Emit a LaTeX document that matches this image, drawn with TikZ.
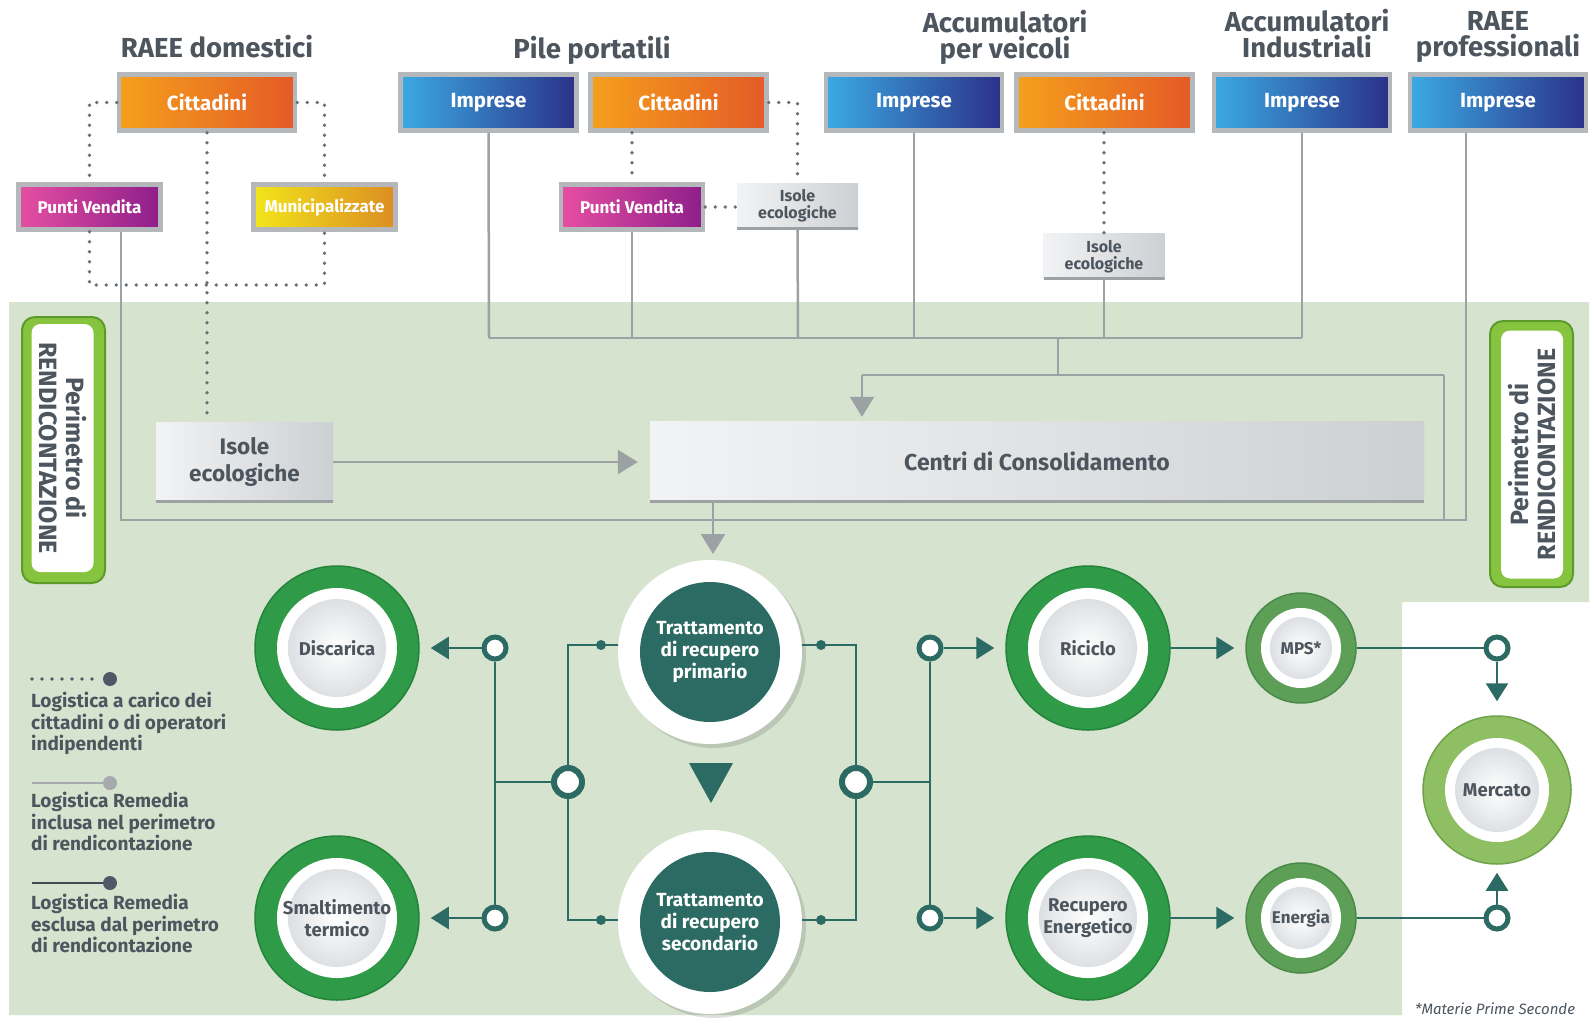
\documentclass[tikz,border=0pt]{standalone}
\usepackage{fontspec}
\setmainfont{Fira Sans}
\usetikzlibrary{arrows.meta,calc,shadows}
\definecolor{bgG}{HTML}{D6E3CF}
\definecolor{frameG}{HTML}{B4B8BB}
\definecolor{txt}{HTML}{4D565E}
\definecolor{lineG}{HTML}{9CA1A4}
\definecolor{dotG}{HTML}{6A7077}
\definecolor{teal1}{HTML}{2C6B63}
\definecolor{gBig}{HTML}{2F9A47}
\definecolor{gBigD}{HTML}{23843A}
\definecolor{gMid}{HTML}{5E9F58}
\definecolor{gMidD}{HTML}{4A8A48}
\definecolor{gLt}{HTML}{8EBF63}
\definecolor{gLtD}{HTML}{6FA24B}
\definecolor{lime}{HTML}{86C440}
\definecolor{limeD}{HTML}{5C9A2C}
\definecolor{or1}{HTML}{F5A01C}
\definecolor{or2}{HTML}{E45A26}
\definecolor{bl1}{HTML}{3BAAE3}
\definecolor{bl2}{HTML}{2B3188}
\definecolor{mg1}{HTML}{E64FA2}
\definecolor{mg2}{HTML}{8E1E8A}
\definecolor{ye1}{HTML}{F2E51B}
\definecolor{ye2}{HTML}{DC8D22}
\definecolor{gy1}{HTML}{F2F3F4}
\definecolor{gy2}{HTML}{CDD0D3}
\definecolor{discG}{HTML}{DDE0E3}
\definecolor{legDark}{HTML}{4F5866}
\definecolor{legLine}{HTML}{3F4A52}
\newcommand\fntTitle{\fontsize{27.5}{26}\selectfont\bfseries}
\newcommand\fntBox{\fontsize{20.5}{22}\selectfont\bfseries}
\newcommand\fntSmall{\fontsize{17}{19}\selectfont\bfseries}
\newcommand\fntGray{\fontsize{16}{17}\selectfont\bfseries}
\newcommand\fntBigGray{\fontsize{22.5}{27}\selectfont\bfseries}
\newcommand\fntCentri{\fontsize{23}{25}\selectfont\bfseries}
\newcommand\fntCirc{\fontsize{18.5}{21.5}\selectfont\bfseries}
\newcommand\fntMid{\fontsize{17}{19}\selectfont\bfseries}
\newcommand\fntTr{\fontsize{19}{21.7}\selectfont\bfseries}
\newcommand\fntLeg{\fontsize{19}{21.5}\selectfont\bfseries}
\newcommand\fntPer{\fontsize{25}{27}\selectfont\bfseries}
\newcommand\fntNote{\fontsize{15}{17}\selectfont\itshape}
\begin{document}
\begin{tikzpicture}[x=1pt,y=-1pt,
  ttl/.style={text=txt, font=\fntTitle, align=center, inner sep=0pt},
  boxbase/.style={draw=frameG, line width=4.5pt, inner sep=0pt, text=white},
  boxBig/.style={boxbase, minimum width=176pt, minimum height=56pt, font=\fntBox},
  boxOr/.style={boxBig, left color=or1, right color=or2},
  boxBl/.style={boxBig, left color=bl1, right color=bl2},
  boxSm/.style={boxbase, minimum width=142pt, minimum height=45pt, font=\fntSmall},
  boxMg/.style={boxSm, left color=mg1, right color=mg2},
  boxYe/.style={boxSm, left color=ye1, right color=ye2},
  boxGy/.style={inner sep=0pt, left color=gy1, right color=gy2, text=txt, align=center,
    path picture={\draw[line width=5pt, color=lineG] (path picture bounding box.south west) -- (path picture bounding box.south east);}},
  boxGySm/.style={boxGy, minimum width=121pt, minimum height=46pt, font=\fntGray},
  boxGyBig/.style={boxGy, font=\fntBigGray},
  perO/.style={rounded corners=13pt, fill=lime, draw=limeD, line width=2pt, minimum width=83pt, minimum height=266pt, inner sep=0pt},
  perI/.style={rounded corners=9pt, fill=white, minimum width=248pt, minimum height=62pt, inner sep=0pt, align=center, font=\fntPer, text=txt},
  gline/.style={draw=lineG, line width=2.5pt},
  garrow/.style={gline, -{Triangle[length=20pt,width=24pt]}},
  dotline/.style={draw=dotG, line width=3.6pt, line cap=round, dash pattern=on 0pt off 10pt},
  tline/.style={draw=teal1, line width=2.5pt},
  tarrow/.style={tline, -{Triangle[length=18pt,width=22pt]}},
  ringS/.style={circle, inner sep=0pt, minimum size=22pt, fill=white, draw=teal1, line width=5pt},
  ringM/.style={circle, inner sep=0pt, minimum size=28pt, fill=white, draw=teal1, line width=6pt},
  tdotS/.style={circle, inner sep=0pt, minimum size=10pt, fill=teal1},
  ringed/.style n args={5}{circle, inner sep=0pt, minimum size=#1, fill=#2, draw=#3, line width=1.5pt,
    align=center, text=txt, font=\fntCirc,
    path picture={\fill[white] (path picture bounding box.center) circle[radius=#4];
      \shade[inner color=white, outer color=discG] (path picture bounding box.center) circle[radius=#5];}},
  bigC/.style={ringed={164pt}{gBig}{gBigD}{60pt}{49pt}},
  midC/.style={ringed={110pt}{gMid}{gMidD}{40pt}{31pt}, font=\fntMid},
  mercC/.style={ringed={148pt}{gLt}{gLtD}{52pt}{42pt}},
  trC/.style={circle, inner sep=0pt, minimum size=184pt, fill=white, align=center, text=white, font=\fntTr,
    drop shadow={shadow xshift=4pt, shadow yshift=-4pt, fill=black, opacity=0.12},
    path picture={\fill[teal1] (path picture bounding box.center) circle[radius=70pt];}},
  legtxt/.style={anchor=north west, inner sep=0pt, align=left, text=txt, font=\fntLeg}
]
\useasboundingbox (0,0) rectangle (1595,1017);
\fill[white] (0,0) rectangle (1595,1017);
\fill[bgG] (9,302) -- (1589,302) -- (1589,602) -- (1402,602) -- (1402,1015) -- (9,1015) -- cycle;

% titles
\node[ttl] (t1) at (217,47) {RAEE domestici};
\node[ttl] (t2) at (592,50) {Pile portatili};
\node[ttl] (t3) at (1005,37) {Accumulatori\\per veicoli};
\node[ttl] (t4) at (1307,34) {Accumulatori\\Industriali};
\node[ttl] (t5) at (1498,37) {RAEE\\professionali};

% top boxes
\node[boxOr] (cit1) at (207,102.5) {Cittadini};
\node[boxBl] (imp1) at (488.5,102.5) {Imprese};
\node[boxOr] (cit2) at (678.5,102.5) {Cittadini};
\node[boxBl] (imp2) at (914,102.5) {Imprese};
\node[boxOr] (cit3) at (1104.5,102.5) {Cittadini};
\node[boxBl] (imp3) at (1302,102.5) {Imprese};
\node[boxBl] (imp4) at (1498,102.5) {Imprese};
\node[boxMg] (pv1) at (89.5,207) {Punti Vendita};
\node[boxYe] (mun) at (324.5,207) {Municipalizzate};
\node[boxMg] (pv2) at (632,207) {Punti Vendita};
\node[boxGySm] (is1) at (797.5,206) {Isole\\ecologiche};
\node[boxGySm] (is2) at (1104,256.5) {Isole\\ecologiche};
\node[boxGyBig, minimum width=177pt, minimum height=80pt] (isb) at (244.5,462) {Isole\\ecologiche};
\node[boxGyBig, minimum width=774pt, minimum height=81pt, font=\fntCentri] (centri) at (1037,461.5) {Centri di Consolidamento};

% perimeter labels
\node[perO] (plo) at (63.5,450) {};
\node[perI, rotate=-90] (pli) at (62.5,448) {Perimetro di\\RENDICONTAZIONE};
\node[perO] (pro) at (1531.5,454) {};
\node[perI, rotate=90] (pri) at (1532,454.5) {Perimetro di\\RENDICONTAZIONE};

% coordinates of the grey network
\coordinate (b1) at (489,338);
\coordinate (b2) at (632,338);
\coordinate (b3) at (798,338);
\coordinate (b4) at (914,338);
\coordinate (b5) at (1104,338);
\coordinate (b6) at (1302,338);
\coordinate (bm) at (1058,338);
\coordinate (bm2) at (1058,375);
\coordinate (bl) at (862,375);
\coordinate (br) at (1444,375);
\coordinate (brb) at (1444,520);
\coordinate (p4) at (1466,520);
\coordinate (p1) at (121,520);
\coordinate (cd) at (713,554);

\draw[gline] (imp1.south) -- (b1);
\draw[gline] (pv2.south) -- (b2);
\draw[gline] (is1.south) -- (b3);
\draw[gline] (imp2.south) -- (b4);
\draw[gline] (is2.south) -- (b5);
\draw[gline] (imp3.south) -- (b6);
\draw[gline] (b1) -- (b6);
\draw[gline] (bm) -- (bm2);
\draw[gline] (br) -- (bl);
\draw[garrow, shorten >=4pt] (bl) -- (bl |- centri.north);
\draw[gline] (br) -- (brb);
\draw[gline] (imp4.south -| p4) -- (p4) -- (p1) -- (pv1.south -| p1);
\draw[garrow, shorten >=12pt] (isb.east) -- (isb.east -| centri.west);
\draw[garrow] (centri.south -| cd) -- (cd);

% dotted logistics
\coordinate (d1) at (89.5,102.5);
\coordinate (d2) at (324.5,102.5);
\coordinate (d3) at (89.5,285);
\coordinate (d4) at (324.5,285);
\coordinate (d5) at (797.5,102.5);
\draw[dotline] (cit1.west) -- (d1) -- (pv1.north);
\draw[dotline] (pv1.south) -- (d3) -- (d4) -- (mun.south);
\draw[dotline] (cit1.east) -- (d2) -- (mun.north);
\draw[dotline] (cit1.south) -- (cit1.south |- isb.north);
\draw[dotline] (cit2.south -| pv2.north) -- (pv2.north);
\draw[dotline] (cit2.east) -- (d5) -- (is1.north);
\draw[dotline] (pv2.east) -- (is1.west |- pv2.east);
\draw[dotline] (cit3.south -| is2.north) -- (is2.north);

% circles
\node[bigC] (disc) at (337,648) {Discarica};
\node[bigC] (smal) at (337,918) {Smaltimento\\termico};
\node[trC] (tp) at (710,652) {Trattamento\\di recupero\\primario};
\node[trC] (ts) at (710,922) {Trattamento\\di recupero\\secondario};
\node[bigC] (ric) at (1088,648) {Riciclo};
\node[bigC] (rec) at (1088,918) {Recupero\\Energetico};
\node[midC] (mps) at (1301,648) {MPS*};
\node[midC] (ene) at (1301,918) {Energia};
\node[mercC] (mer) at (1497,790) {Mercato};

% rings
\node[ringS] (rD) at (495,648) {};
\node[ringS] (rS) at (495,918) {};
\node[ringM] (rML) at (568,782) {};
\node[ringM] (rMR) at (856,782) {};
\node[ringS] (rR) at (930,648) {};
\node[ringS] (rE) at (930,918) {};
\node[ringS] (rK1) at (1497,648) {};
\node[ringS] (rK2) at (1497,918) {};

\coordinate (jL) at (495,782);
\coordinate (jR) at (930,782);
\coordinate (cLT) at (568,645);
\coordinate (cLB) at (568,920);
\coordinate (cRT) at (856,645);
\coordinate (cRB) at (856,920);

\draw[tarrow, shorten >=11pt] (rD) -- (disc);
\draw[tarrow, shorten >=11pt] (rS) -- (smal);
\draw[tline] (rD) -- (rS);
\draw[tline] (jL) -- (rML);
\draw[tline] (rML) -- (cLT) -- (cLT -| tp.west);
\draw[tline] (rML) -- (cLB) -- (cLB -| ts.west);
\draw[tline] (rMR) -- (cRT) -- (cRT -| tp.east);
\draw[tline] (rMR) -- (cRB) -- (cRB -| ts.east);
\draw[tline] (rMR) -- (jR);
\draw[tline] (rR) -- (rE);
\draw[tarrow, shorten >=11pt] (rR) -- (ric);
\draw[tarrow, shorten >=11pt] (rE) -- (rec);
\draw[tarrow, shorten >=11pt] (ric) -- (mps);
\draw[tarrow, shorten >=11pt] (rec) -- (ene);
\draw[tline] (mps) -- (rK1);
\draw[tline] (ene) -- (rK2);
\draw[tarrow, shorten >=14pt] (rK1) -- (mer);
\draw[tarrow, shorten >=8pt] (rK2) -- (mer);

\node[tdotS] (dLT) at (601,645) {};
\node[tdotS] (dLB) at (601,920) {};
\node[tdotS] (dRT) at (821,645) {};
\node[tdotS] (dRB) at (821,920) {};

\fill[teal1] (689,763) -- (733,763) -- (711,803) -- cycle;

% legend
\draw[dotline, draw=legDark] (32,679) -- (100,679);
\fill[legDark] (110,679) circle[radius=7pt];
\draw[gline, draw=lineG!90] (32,783) -- (108,783);
\fill[lineG!90] (110,783) circle[radius=7pt];
\draw[gline, draw=legLine] (32,883) -- (108,883);
\fill[legDark] (110,883) circle[radius=7pt];
\node[legtxt] (lg1) at (31,692) {Logistica a carico dei\\cittadini o di operatori\\indipendenti};
\node[legtxt] (lg2) at (31,792) {Logistica Remedia\\inclusa nel perimetro\\di rendicontazione};
\node[legtxt] (lg3) at (31,894) {Logistica Remedia\\esclusa dal perimetro\\di rendicontazione};

\node[text=txt, font=\fntNote, inner sep=0pt] (note) at (1495,1009) {*Materie Prime Seconde};
\end{tikzpicture}
\end{document}
